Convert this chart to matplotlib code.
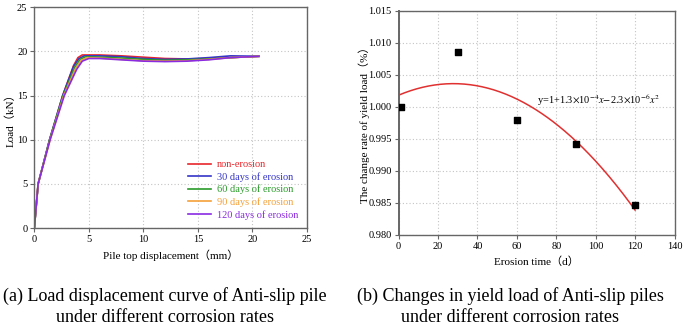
import matplotlib
matplotlib.use("Agg")
import matplotlib.pyplot as plt
import numpy as np

plt.rcParams["font.family"] = ["Liberation Serif", "Noto Sans CJK SC"]
plt.rcParams["mathtext.fontset"] = "stix"

# (a) load-displacement curves
disp_red = [0, 0.35, 1.4, 2.6, 3.6, 4.0, 4.4, 6, 8, 10, 12, 14, 16, 18, 20.6]
load_red = [0, 5.0, 10.0, 15.0, 18.4, 19.3, 19.6, 19.6, 19.5, 19.35, 19.2, 19.15, 19.2, 19.3, 19.45]
disp_blue = [0, 0.35, 1.4, 2.6, 3.6, 4.1, 4.6, 6, 8, 10, 12, 14, 16, 18, 20.6]
load_blue = [0, 5.0, 10.0, 15.0, 18.3, 19.2, 19.5, 19.5, 19.4, 19.2, 19.1, 19.15, 19.3, 19.5, 19.45]
disp_green = [0, 0.35, 1.4, 2.65, 3.7, 4.2, 4.7, 6, 8, 10, 12, 14, 16, 18, 20.6]
load_green = [0, 5.0, 10.0, 15.0, 18.2, 19.1, 19.4, 19.35, 19.25, 19.1, 19.0, 19.05, 19.15, 19.3, 19.45]
disp_orange = [0, 0.35, 1.45, 2.7, 3.8, 4.3, 4.85, 6, 8, 10, 12, 14, 16, 18, 20.6]
load_orange = [0, 5.0, 10.0, 15.0, 18.1, 19.0, 19.3, 19.25, 19.1, 18.95, 18.9, 18.95, 19.1, 19.3, 19.45]
disp_purple = [0, 0.35, 1.45, 2.75, 3.9, 4.4, 5.0, 6, 8, 10, 12, 14, 16, 18, 20.6]
load_purple = [0, 5.0, 10.0, 15.0, 18.0, 18.9, 19.2, 19.2, 19.05, 18.9, 18.85, 18.9, 19.05, 19.3, 19.45]

series_labels = ["non-erosion", "30 days of erosion", "60 days of erosion",
                 "90 days of erosion", "120 days of erosion"]
series_colors = ["#e8262b", "#3535c8", "#2a9a2a", "#f5a13a", "#8a2be2"]

# (b) yield load change rate
erosion_days = [1, 30, 60, 90, 120]
yield_rate = [1.0000, 1.0085, 0.9979, 0.9942, 0.9846]

fig = plt.figure(figsize=(6.85, 3.26), dpi=100)
ax1 = fig.add_axes([0.0501, 0.3006, 0.3979, 0.677])
ax2 = fig.add_axes([0.582, 0.280, 0.4027, 0.687])

spine_col = "#666666"
grid_kw = dict(color="#c4c4c4", linestyle=(0, (1, 2)), linewidth=0.8)

for ax in (ax1, ax2):
    for s in ax.spines.values():
        s.set_color(spine_col)
        s.set_linewidth(1.0)
    ax.tick_params(direction="out", length=3, width=0.8, color=spine_col,
                   labelsize=7.5, pad=2)
    ax.grid(True, **grid_kw)
    ax.set_axisbelow(True)
ax2.spines["left"].set_linewidth(1.4)

# panel (a)
curves = [(disp_red, load_red), (disp_blue, load_blue), (disp_green, load_green),
          (disp_orange, load_orange), (disp_purple, load_purple)]
for (xs, ys), lab, col in zip(curves, series_labels, series_colors):
    ax1.plot(xs, ys, color=col, linewidth=1.2, label=lab)
ax1.set_xlim(0, 25)
ax1.set_ylim(0, 25)
ax1.set_xticks(np.arange(0, 26, 5))
ax1.set_yticks(np.arange(0, 26, 5))
ax1.set_xlabel("Pile top displacement（mm）", fontsize=8, labelpad=4)
ax1.set_ylabel("Load（kN）", fontsize=8, labelpad=1)
leg = ax1.legend(loc="lower right", bbox_to_anchor=(1.0, 0.0), frameon=False,
                 fontsize=7.5, handlelength=2.2, handletextpad=0.6,
                 labelspacing=0.28, borderaxespad=0.4)
for txt, col in zip(leg.get_texts(), series_colors):
    txt.set_color(col)

# panel (b)
coef = np.polyfit(erosion_days, yield_rate, 2)
fit_x = np.linspace(0, 120, 200)
ax2.plot(fit_x, np.polyval(coef, fit_x), color="#e03030", linewidth=1.1)
ax2.scatter(erosion_days, yield_rate, marker="s", s=16, color="black", zorder=3)
ax2.set_xlim(0, 140)
ax2.set_ylim(0.980, 1.015)
ax2.set_xticks(np.arange(0, 141, 20))
ax2.set_yticks(np.arange(0.980, 1.0151, 0.005))
ax2.set_yticklabels([f"{v:.3f}" for v in np.arange(0.980, 1.0151, 0.005)])
ax2.set_xlabel("Erosion time（d）", fontsize=8, labelpad=4)
ax2.set_ylabel("The change rate of yield load（%）", fontsize=8, labelpad=-1)
ax2.text(70, 1.0011, r"y=1+1.3$\times$10$^{-4}$$x$$-$2.3$\times$10$^{-6}$$x^2$",
         fontsize=7.5, va="center", ha="left")

# captions
fig.text(0.241, 0.092, "(a) Load displacement curve of Anti-slip pile",
         ha="center", va="center", fontsize=13)
fig.text(0.241, 0.025, "under different corrosion rates",
         ha="center", va="center", fontsize=13)
fig.text(0.745, 0.092, "(b) Changes in yield load of Anti-slip piles",
         ha="center", va="center", fontsize=13)
fig.text(0.745, 0.025, "under different corrosion rates",
         ha="center", va="center", fontsize=13)

fig.savefig("out.png", dpi=100)
